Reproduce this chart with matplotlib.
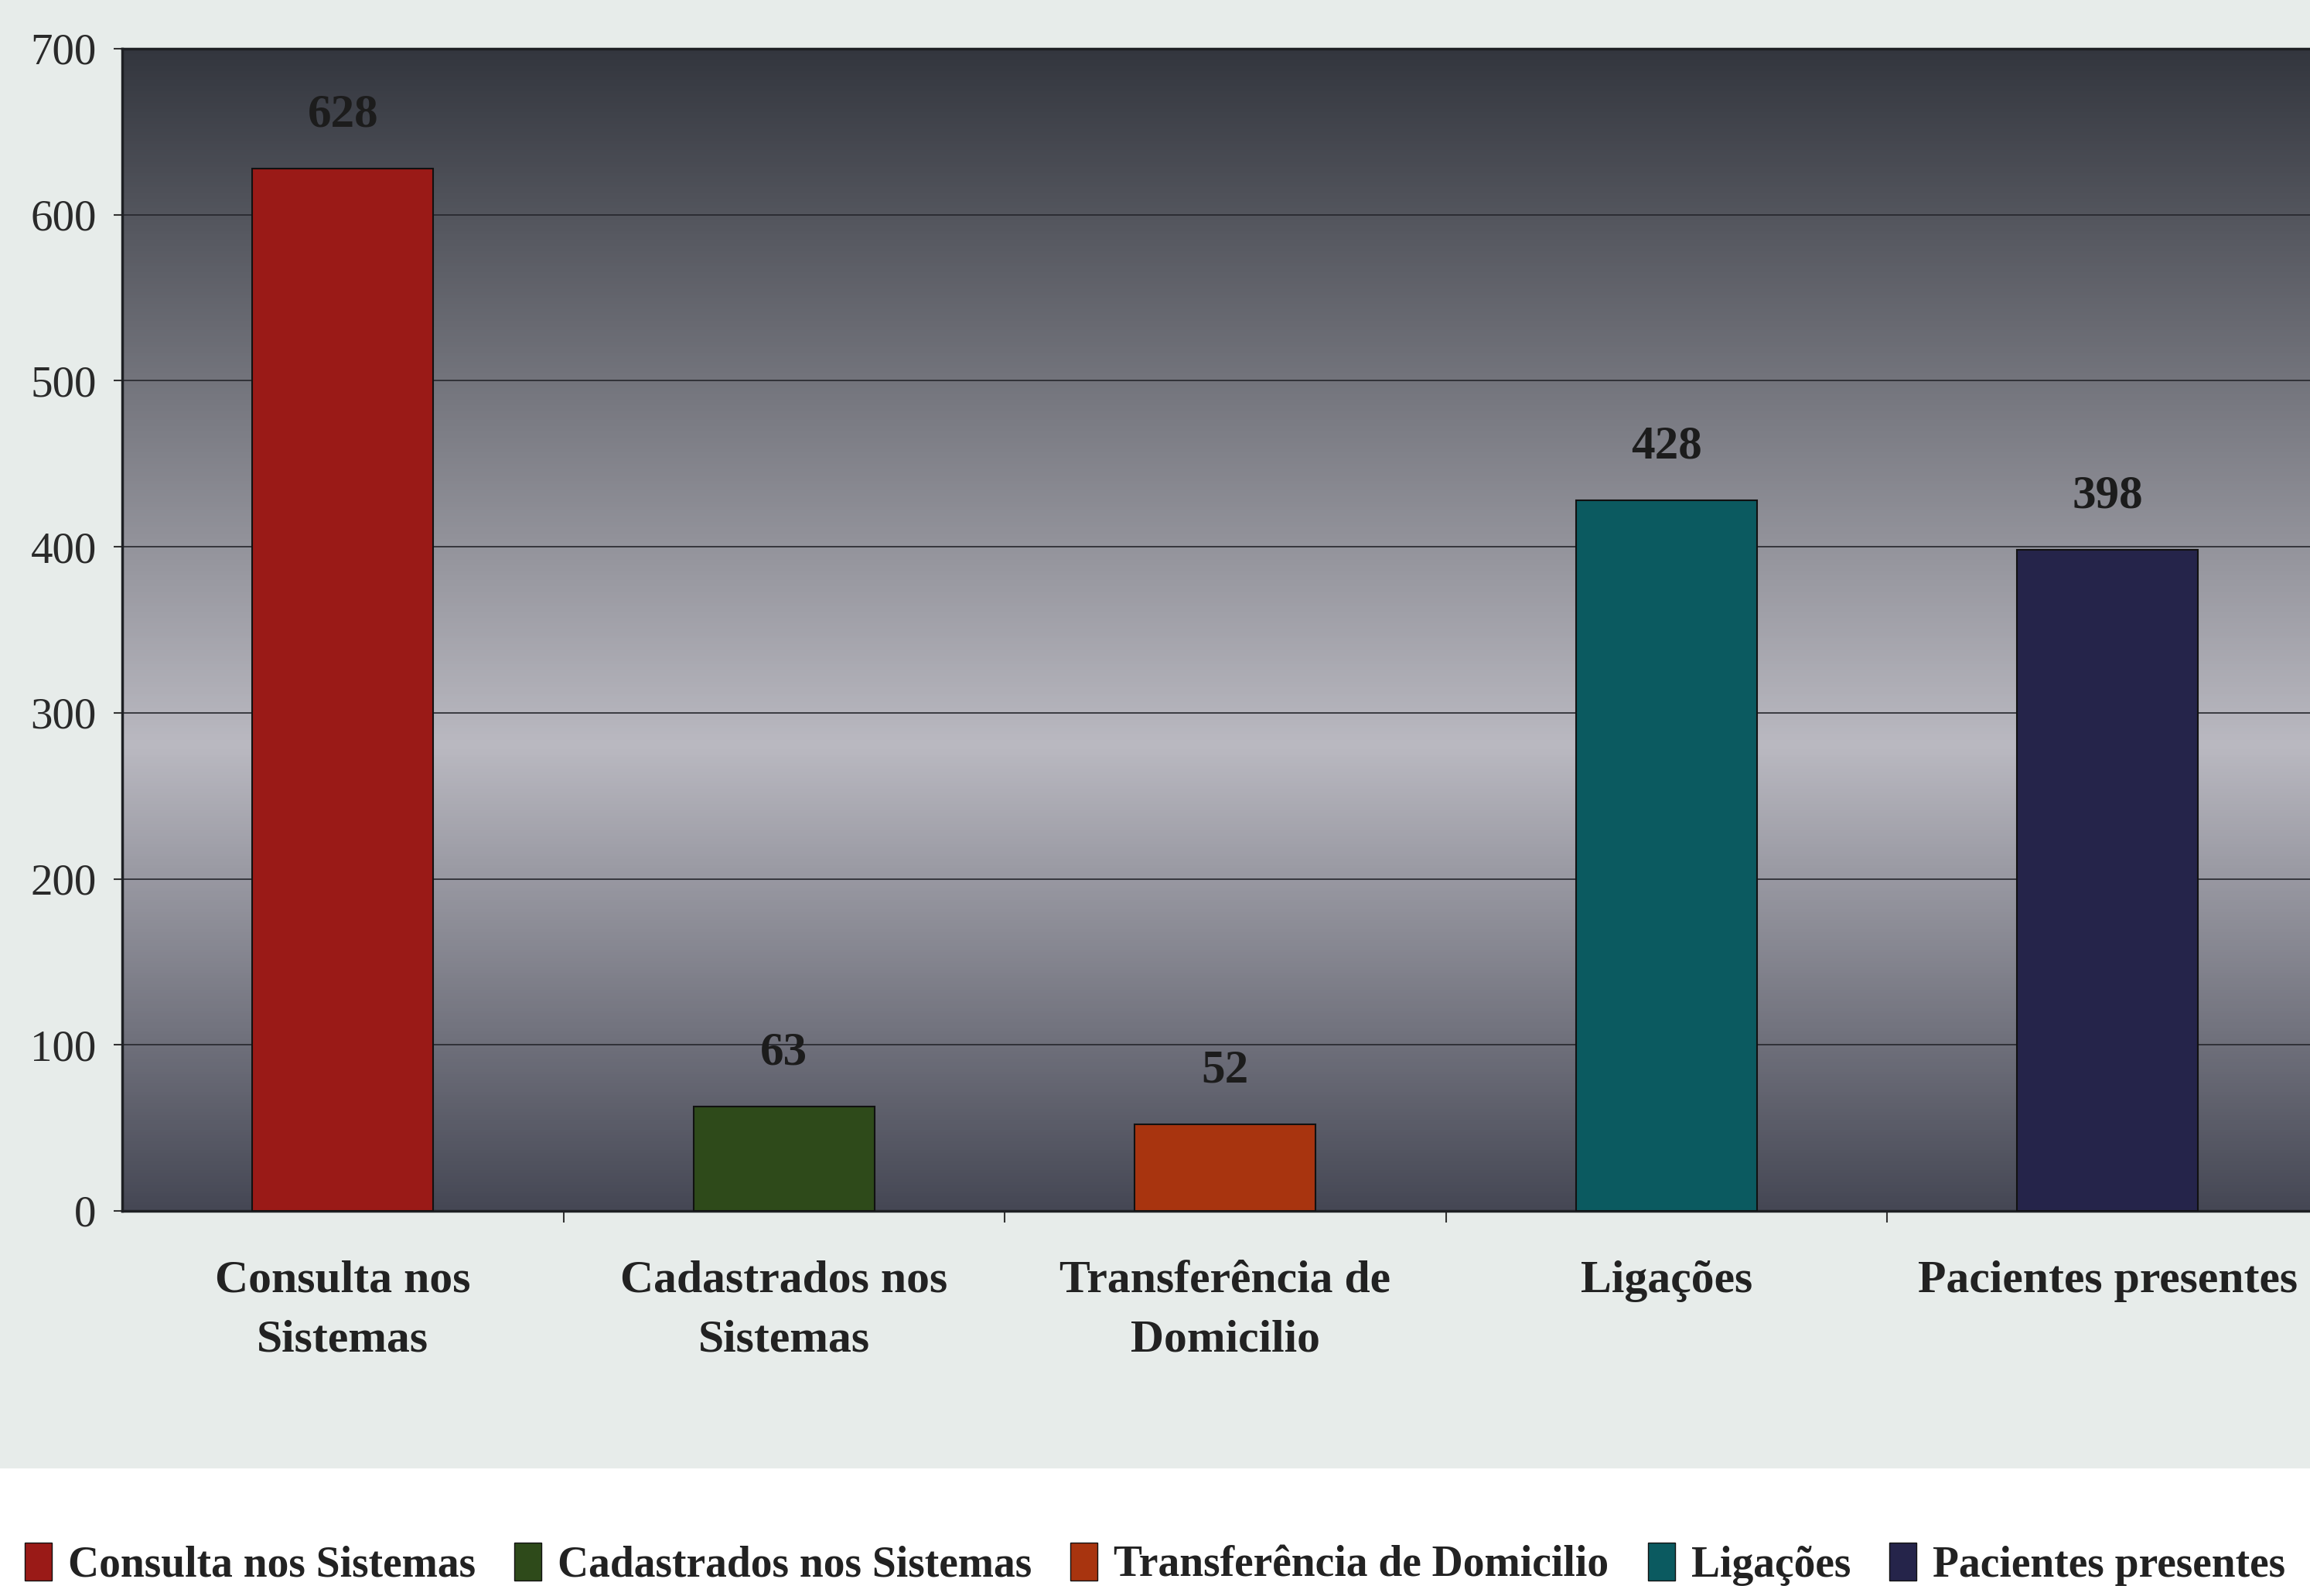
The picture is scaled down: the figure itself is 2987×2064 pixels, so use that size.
import numpy as np
import matplotlib
matplotlib.use("Agg")
import matplotlib.pyplot as plt
from matplotlib.patches import Rectangle
from matplotlib.colors import to_rgb

# --- data ---
categories = ["Consulta nos Sistemas", "Cadastrados nos Sistemas", "Transferência de Domicilio",
              "Ligações", "Pacientes presentes"]
tick_labels = ["Consulta nos\nSistemas", "Cadastrados nos\nSistemas", "Transferência de\nDomicilio",
               "Ligações", "Pacientes presentes"]
values = [628, 63, 52, 428, 398]
colors = ["#9a1a17", "#2e4a1a", "#a8340f", "#0b5a60", "#25244a"]
yticks = [0, 100, 200, 300, 400, 500, 600, 700]

plt.rcParams["font.family"] = ["Liberation Serif", "DejaVu Serif"]

fig = plt.figure(figsize=(29.87, 20.64), dpi=100, facecolor="white")
# light speckled paper area behind the chart
fig.patches.append(Rectangle((0, 0.08), 1, 0.92, transform=fig.transFigure,
                             facecolor="#e7ecea", edgecolor="none", zorder=-10))

ax = fig.add_axes([0.0529, 0.2413, 0.955, 0.7282])

# metallic grey gradient of the plot area
stops = [(0.0, "#33363e"), (0.6, "#bab9c1"), (1.0, "#454754")]
t = np.linspace(0, 1, 400)
grad = np.array([[np.interp(v, [s[0] for s in stops], [to_rgb(s[1])[k] for s in stops]) for k in range(3)] for v in t])
ax.imshow(grad[:, None, :], extent=[-0.5, 4.5, 0, 700], aspect="auto", zorder=0)

x = np.arange(len(values))
ax.bar(x, values, width=0.41, color=colors, edgecolor="#111111", linewidth=1.5, zorder=3)
for xi, v in zip(x, values):
    ax.annotate(str(v), (xi, v), xytext=(0, 50), textcoords="offset points",
                ha="center", va="center", fontsize=44, fontweight="bold", color="#1c1c1c", zorder=4)

ax.set_xlim(-0.5, 4.5)
ax.set_ylim(0, 700)
ax.set_yticks(yticks)
ax.set_yticklabels([str(v) for v in yticks], fontsize=41, color="#2a2a2a")
for yv in yticks[1:-1]:
    ax.axhline(yv, color="#25262c", lw=1.2, zorder=1)

ax.set_xticks(x)
ax.set_xticklabels(tick_labels, fontsize=43, fontweight="bold", color="#222222", linespacing=1.55)
ax.set_xticks(np.arange(0.5, 4.5, 1), minor=True)
ax.tick_params(axis="x", which="major", length=0, pad=46)
ax.tick_params(axis="x", which="minor", length=11, width=1.5, color="#333333", direction="out")
ax.tick_params(axis="y", length=8, width=1.5, color="#333333", pad=16)

for side in ["top", "left", "bottom"]:
    ax.spines[side].set_color("#1e2024")
    ax.spines[side].set_linewidth(2.5)
ax.spines["right"].set_visible(False)

handles = [Rectangle((0, 0), 1, 1, facecolor=c, edgecolor="#111111", lw=1) for c in colors]
fig.legend(handles, categories, loc="center", bbox_to_anchor=(0.5, 0.02), ncol=5, frameon=False,
           prop={"size": 40, "weight": "bold"}, handlelength=0.63, handleheight=1.0,
           handletextpad=0.38, columnspacing=0.9, labelcolor="#222222")

fig.savefig("out.png", dpi=100, facecolor=fig.get_facecolor())
